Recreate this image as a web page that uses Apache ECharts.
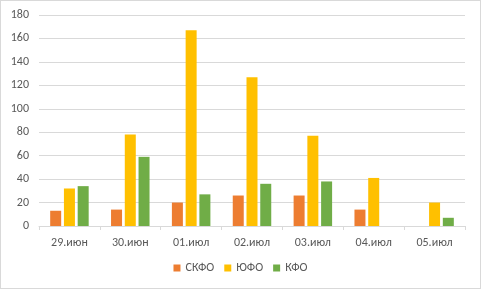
<!DOCTYPE html>
<html>
<head>
<meta charset="utf-8">
<script src="https://cdn.jsdelivr.net/npm/echarts@6/dist/echarts.min.js"></script>
<style>
  html, body { margin: 0; padding: 0; background: #fff; }
  #chart { width: 479px; height: 287px; border: 1px solid #d9d9d9; }
</style>
</head>
<body>
<div id="chart"></div>
<script>
// даты
const categories = ['29.июн', '30.июн', '01.июл', '02.июл', '03.июл', '04.июл', '05.июл'];
const skfo = [13, 14, 20, 26, 26, 14, null];
const yufo = [32, 78, 167, 127, 77, 41, 20];
const kfo = [34, 59, 27, 36, 38, null, 7];
const yTicks = [0, 20, 40, 60, 80, 100, 120, 140, 160, 180];

const chart = echarts.init(document.getElementById('chart'));

const textStyle = { color: '#595959', fontFamily: 'Calibri, Carlito, "Liberation Sans", sans-serif', fontSize: 12 };

const option = {
  animation: false,
  textStyle: textStyle,
  legend: {
    bottom: 9,
    left: 'center',
    itemWidth: 7,
    itemHeight: 7,
    itemGap: 10,
    icon: 'rect',
    textStyle: textStyle,
    data: ['СКФО', 'ЮФО', 'КФО']
  },
  grid: { left: 38, right: 15, top: 14, bottom: 62 },
  xAxis: {
    type: 'category',
    data: categories,
    axisLine: { lineStyle: { color: '#d9d9d9' } },
    axisTick: { show: true, length: 4, lineStyle: { color: '#d9d9d9' } },
    axisLabel: { color: '#595959', fontSize: 12, margin: 11 }
  },
  yAxis: {
    type: 'value',
    min: yTicks[0],
    max: yTicks[yTicks.length - 1],
    interval: 20,
    axisLine: { show: false },
    axisTick: { show: false },
    axisLabel: { color: '#595959', fontSize: 12, margin: 10 },
    splitLine: { lineStyle: { color: '#d9d9d9' } }
  },
  series: [
    { name: 'СКФО', type: 'bar', data: skfo, barWidth: 11, barGap: '25%', itemStyle: { color: '#ED7D31' } },
    { name: 'ЮФО', type: 'bar', data: yufo, barWidth: 11, barGap: '25%', itemStyle: { color: '#FFC000' } },
    { name: 'КФО', type: 'bar', data: kfo, barWidth: 11, barGap: '25%', itemStyle: { color: '#70AD47' } }
  ]
};

chart.setOption(option);
</script>
</body>
</html>
